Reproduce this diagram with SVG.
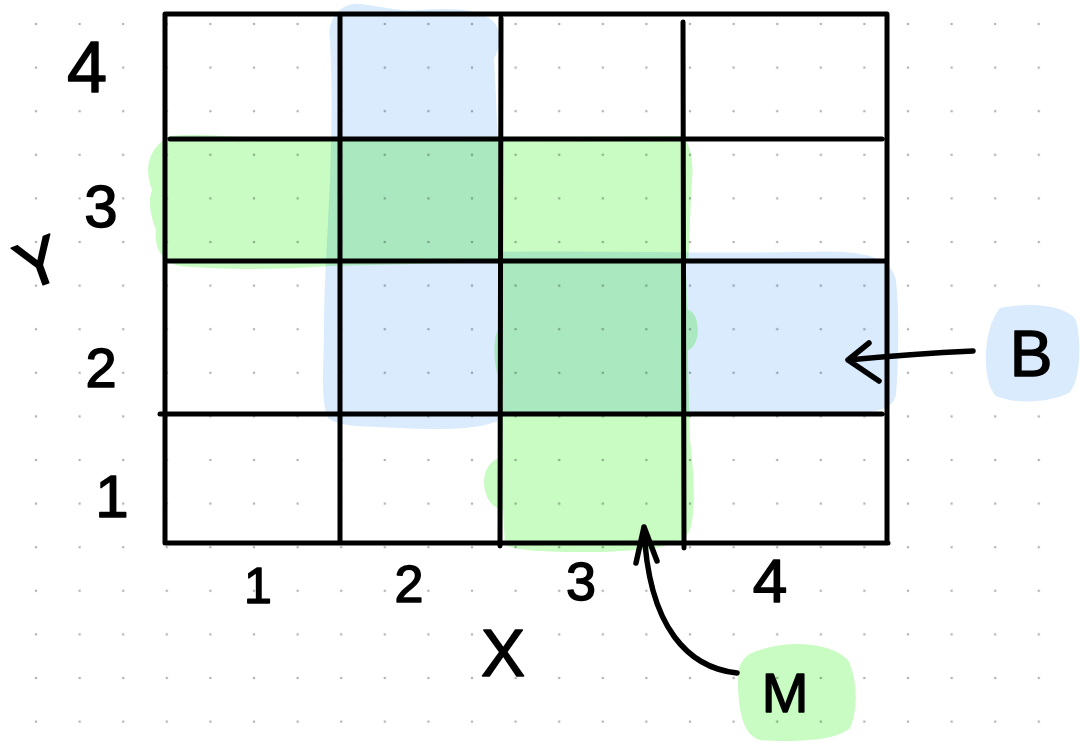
<svg xmlns="http://www.w3.org/2000/svg" width="1080" height="743" viewBox="0 0 1080 743">
<style>
.ln{fill:none;stroke:#000;stroke-width:5;stroke-linecap:round;stroke-linejoin:round}
.arr{fill:none;stroke:#000;stroke-width:5.5;stroke-linecap:round;stroke-linejoin:round}
.blue{fill:#d9ebfd}
.green{fill:#c8fcc2;mix-blend-mode:multiply}
.lbl{font-family:"Liberation Sans",Arial,sans-serif;fill:#000;stroke:#000;stroke-width:1.5;stroke-linejoin:round;text-anchor:middle}
.dots{mix-blend-mode:multiply}
</style>
<defs>
<pattern id="dotp" patternUnits="userSpaceOnUse" x="14.2" y="2.2" width="43.6" height="43.6">
<circle cx="21.8" cy="21.8" r="1.3" fill="#b4b4b4"/>
</pattern>
</defs>
<rect width="1080" height="743" fill="#fff"/>
<g id="fills">
<path class="blue" d="M330 40 C326 15 345 2 360 4 C380 6 400 12 420 10 C450 8 480 8 494 22 C502 32 500 50 494 58 L498 140 L500 420 C480 430 440 430 400 428 C370 426 340 428 328 418 C320 400 324 360 324 330 C324 280 328 230 330 180 C332 120 332 80 330 40 Z"/>
<path class="blue" d="M498 252 C600 250 700 254 800 252 C850 250 890 252 896 280 C900 320 898 370 896 395 C892 415 860 414 800 414 L498 416 Z"/>
<path class="green" d="M170 136 C200 133 240 138 280 138 L680 136 C690 140 694 160 692 180 C690 210 690 240 688 262 L500 262 L330 266 C280 270 220 270 180 266 C160 262 154 245 156 230 C150 215 148 200 152 190 C146 175 144 150 170 136 Z M500 254 C560 250 640 250 684 252 C688 280 686 300 688 310 C700 312 702 345 688 350 C688 380 690 420 690 440 C694 470 696 510 690 530 C680 550 640 550 600 552 C560 552 520 552 505 545 L503 510 C478 505 478 460 502 458 L500 380 C494 370 492 340 498 330 L498 290 Z"/>
</g>
<rect class="dots" width="1080" height="743" fill="url(#dotp)"/>
<g id="grid">
<path class="ln" d="M165 14 L886 14 M170 139 L882 139 M168 261 L886 261 M160 414 L882 414 M165 543 L888 543 M165 14 L165 543 M340 14 L340 543 M501 18 L500 546 M683 22 L684 548 M887 14 L887 543"/>
</g>
<g id="y-axis">
<text class="lbl" x="87" y="92" font-size="72">4</text>
<text class="lbl" x="101" y="227" font-size="60">3</text>
<text class="lbl" x="101" y="387" font-size="56">2</text>
<text class="lbl" x="112" y="517" font-size="60">1</text>
<text class="lbl" x="38" y="285" font-size="66" transform="rotate(-20 38 262)">Y</text>
</g>
<g id="x-axis">
<text class="lbl" x="258" y="603" font-size="50">1</text>
<text class="lbl" x="409" y="602" font-size="52">2</text>
<text class="lbl" x="581" y="600" font-size="54">3</text>
<text class="lbl" x="770" y="602" font-size="62">4</text>
<text class="lbl" x="503" y="676" font-size="66">X</text>
</g>
<g id="node-B">
<path class="blue" d="M1000 308 C1030 302 1065 305 1076 320 C1082 345 1080 380 1070 392 C1050 404 1010 404 995 395 C982 380 982 330 1000 308 Z"/>
<text class="lbl" x="1031" y="376" font-size="64">B</text>
</g>
<g id="node-M">
<path class="green" d="M760 650 C790 640 830 642 848 660 C858 680 858 710 850 728 C835 742 790 742 760 740 C740 735 738 700 738 680 C738 662 745 654 760 650 Z"/>
<text class="lbl" x="785" y="712" font-size="56">M</text>
</g>
<g id="connectors">
<path class="arr" d="M973 351 C930 353 890 356 848 360 M869 343 L848 360 L879 381"/>
<path class="arr" d="M737 673 C690 668 648 630 644 527 M636 563 L644 527 L657 561"/>
</g>
</svg>
